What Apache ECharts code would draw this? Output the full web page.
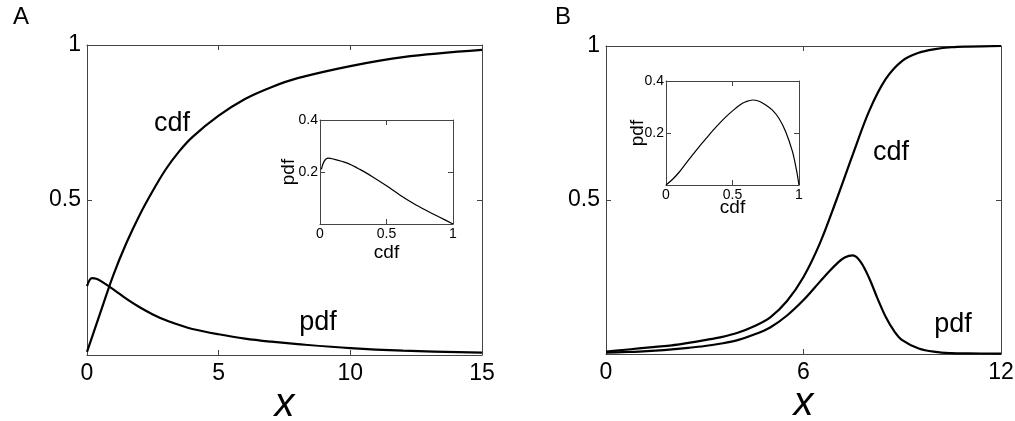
<!DOCTYPE html>
<html><head><meta charset="utf-8">
<script src="https://cdn.jsdelivr.net/npm/echarts@6/dist/echarts.min.js"></script>
<style>html,body{margin:0;padding:0;background:#fff}#c{width:1015px;height:421px}</style>
</head><body><div id="c"></div>
<script>
// ---------- Panel A ----------
const xA_cdf = [0, 0.5, 1, 1.5, 2, 2.5, 3, 3.5, 4, 5, 6, 7, 8, 10, 12, 15];
const cdfA   = [0.01, 0.135, 0.258, 0.362, 0.452, 0.53, 0.6, 0.657, 0.703, 0.772, 0.826, 0.864, 0.893, 0.932, 0.961, 0.984];
const xA_pdf = [0, 0.1, 0.2, 0.35, 0.5, 1, 1.5, 2, 2.5, 3, 3.5, 4, 5, 6, 7, 8, 10, 12, 15];
const pdfA   = [0.222, 0.242, 0.248, 0.246, 0.24, 0.212, 0.181, 0.154, 0.131, 0.112, 0.097, 0.084, 0.067, 0.053, 0.043, 0.035, 0.022, 0.014, 0.0075];
// inset A: pdf vs cdf
const insetA_cdf = [0.01, 0.03, 0.06, 0.1, 0.2, 0.3, 0.4, 0.5, 0.6, 0.7, 0.8, 0.9, 1.0];
const insetA_pdf = [0.21, 0.24, 0.253, 0.25, 0.235, 0.21, 0.18, 0.147, 0.112, 0.08, 0.052, 0.026, 0.0];

// ---------- Panel B ----------
const xB_cdf = [0, 0.5, 1, 1.5, 2, 2.5, 3, 3.5, 4, 4.5, 5, 5.5, 6, 6.5, 7, 7.5, 8, 8.5, 9, 9.5, 10, 10.5, 11, 12];
const cdfB   = [0.008, 0.013, 0.018, 0.023, 0.028, 0.036, 0.045, 0.055, 0.069, 0.09, 0.12, 0.172, 0.25, 0.36, 0.5, 0.648, 0.79, 0.893, 0.952, 0.978, 0.99, 0.996, 0.998, 1.0];
const xB_pdf = [0, 0.5, 1, 1.5, 2, 2.5, 3, 3.5, 4, 4.5, 5, 5.5, 6, 6.5, 6.75, 7, 7.25, 7.5, 7.75, 8, 8.25, 8.5, 8.75, 9, 9.5, 10, 10.5, 11, 12];
const pdfB   = [0.004, 0.006, 0.008, 0.011, 0.015, 0.02, 0.026, 0.034, 0.045, 0.063, 0.087, 0.125, 0.175, 0.235, 0.265, 0.292, 0.313, 0.32, 0.297, 0.245, 0.18, 0.12, 0.075, 0.045, 0.018, 0.007, 0.003, 0.002, 0.001];
// inset B: pdf vs cdf
const insetB_cdf = [0, 0.05, 0.1, 0.15, 0.2, 0.25, 0.3, 0.35, 0.4, 0.45, 0.5, 0.55, 0.6, 0.65, 0.7, 0.75, 0.8, 0.85, 0.9, 0.95, 0.98, 1.0];
const insetB_pdf = [0, 0.022, 0.05, 0.083, 0.116, 0.148, 0.178, 0.208, 0.236, 0.262, 0.285, 0.306, 0.32, 0.327, 0.322, 0.308, 0.288, 0.256, 0.205, 0.13, 0.06, 0.0];

const FONT = "'Liberation Sans', Arial, Helvetica, sans-serif";
const AX = '#444';
const zip = (xs, ys) => xs.map((x, i) => [x, ys[i]]);
const hideZero = v => (v === 0 ? '' : String(v));

function xPair(g, max, interval, fs, margin, name, nameGap, nameFs, italic) {
  const base = {
    gridIndex: g, type: 'value', min: 0, max: max, interval: interval,
    axisLine: { show: true, onZero: false, lineStyle: { color: AX, width: 1 } },
    axisTick: { show: true, inside: true, length: 5, lineStyle: { color: AX } },
    splitLine: { show: false }
  };
  return [
    Object.assign({}, base, {
      position: 'bottom',
      axisLabel: { fontSize: fs, color: '#000', fontFamily: FONT, margin: margin },
      name: name, nameLocation: 'middle', nameGap: nameGap, nameMoveOverlap: false,
      nameTextStyle: { fontSize: nameFs, color: '#000', fontFamily: FONT, fontStyle: italic ? 'italic' : 'normal' }
    }),
    Object.assign({}, base, { position: 'top', axisLabel: { show: false } })
  ];
}
function yPair(g, max, interval, fs, margin, name, nameGap, nameFs) {
  const base = {
    gridIndex: g, type: 'value', min: 0, max: max, interval: interval,
    axisLine: { show: true, onZero: false, lineStyle: { color: AX, width: 1 } },
    axisTick: { show: true, inside: true, length: 5, lineStyle: { color: AX } },
    splitLine: { show: false }
  };
  return [
    Object.assign({}, base, {
      position: 'left',
      axisLabel: { fontSize: fs, color: '#000', fontFamily: FONT, margin: margin, formatter: hideZero },
      name: name, nameLocation: 'middle', nameGap: nameGap, nameMoveOverlap: false,
      nameTextStyle: { fontSize: nameFs, color: '#000', fontFamily: FONT }
    }),
    Object.assign({}, base, { position: 'right', axisLabel: { show: false } })
  ];
}

const grids = [
  { left: 87, top: 45, width: 395, height: 310, outerBoundsMode: 'none', containLabel: false },
  { left: 320, top: 120, width: 133, height: 104, outerBoundsMode: 'none', containLabel: false },
  { left: 606, top: 46, width: 395, height: 308, outerBoundsMode: 'none', containLabel: false },
  { left: 666, top: 81, width: 133, height: 104, outerBoundsMode: 'none', containLabel: false }
];

const xAxes = [].concat(
  xPair(0, 15, 5, 23, 7, 'x', 30, 40, true),
  xPair(1, 1, 0.5, 14, 3, 'cdf', 19, 19, false),
  xPair(2, 12, 6, 23, 7, 'x', 30, 40, true),
  xPair(3, 1, 0.5, 14, 3, 'cdf', 13, 19, false)
);
const yAxes = [].concat(
  yPair(0, 1, 0.5, 23, 6, '', 0, 12),
  yPair(1, 0.4, 0.2, 14, 2, 'pdf', 22, 19),
  yPair(2, 1, 0.5, 23, 6, '', 0, 12),
  yPair(3, 0.4, 0.2, 14, 2, 'pdf', 19, 19)
);

function line(data, xi, yi, w) {
  return {
    type: 'line', data: data, xAxisIndex: xi, yAxisIndex: yi,
    showSymbol: false, smooth: 0.35, animation: false, silent: true,
    lineStyle: { color: '#000', width: w }
  };
}

const series = [
  line(zip(xA_cdf, cdfA), 0, 0, 2.2),
  line(zip(xA_pdf, pdfA), 0, 0, 2.2),
  line(zip(insetA_cdf, insetA_pdf), 2, 2, 1.2),
  line(zip(xB_cdf, cdfB), 4, 4, 2.2),
  line(zip(xB_pdf, pdfB), 4, 4, 2.2),
  line(zip(insetB_cdf, insetB_pdf), 6, 6, 1.2)
];

function label(s, x, y, fs) {
  return { type: 'text', x: x, y: y,
    style: { text: s, fontSize: fs, fontFamily: FONT, fill: '#000', align: 'center', verticalAlign: 'middle' } };
}

const chart = echarts.init(document.getElementById('c'), null, { renderer: 'canvas' });
chart.setOption({
  animation: false,
  backgroundColor: '#fff',
  grid: grids,
  xAxis: xAxes,
  yAxis: yAxes,
  series: series,
  graphic: [
    label('A', 21, 17, 24),
    label('B', 563, 17, 24),
    label('cdf', 172, 124, 27),
    label('pdf', 318, 323, 27),
    label('cdf', 891, 153, 27),
    label('pdf', 953, 325, 27)
  ]
});
</script>
</body></html>
